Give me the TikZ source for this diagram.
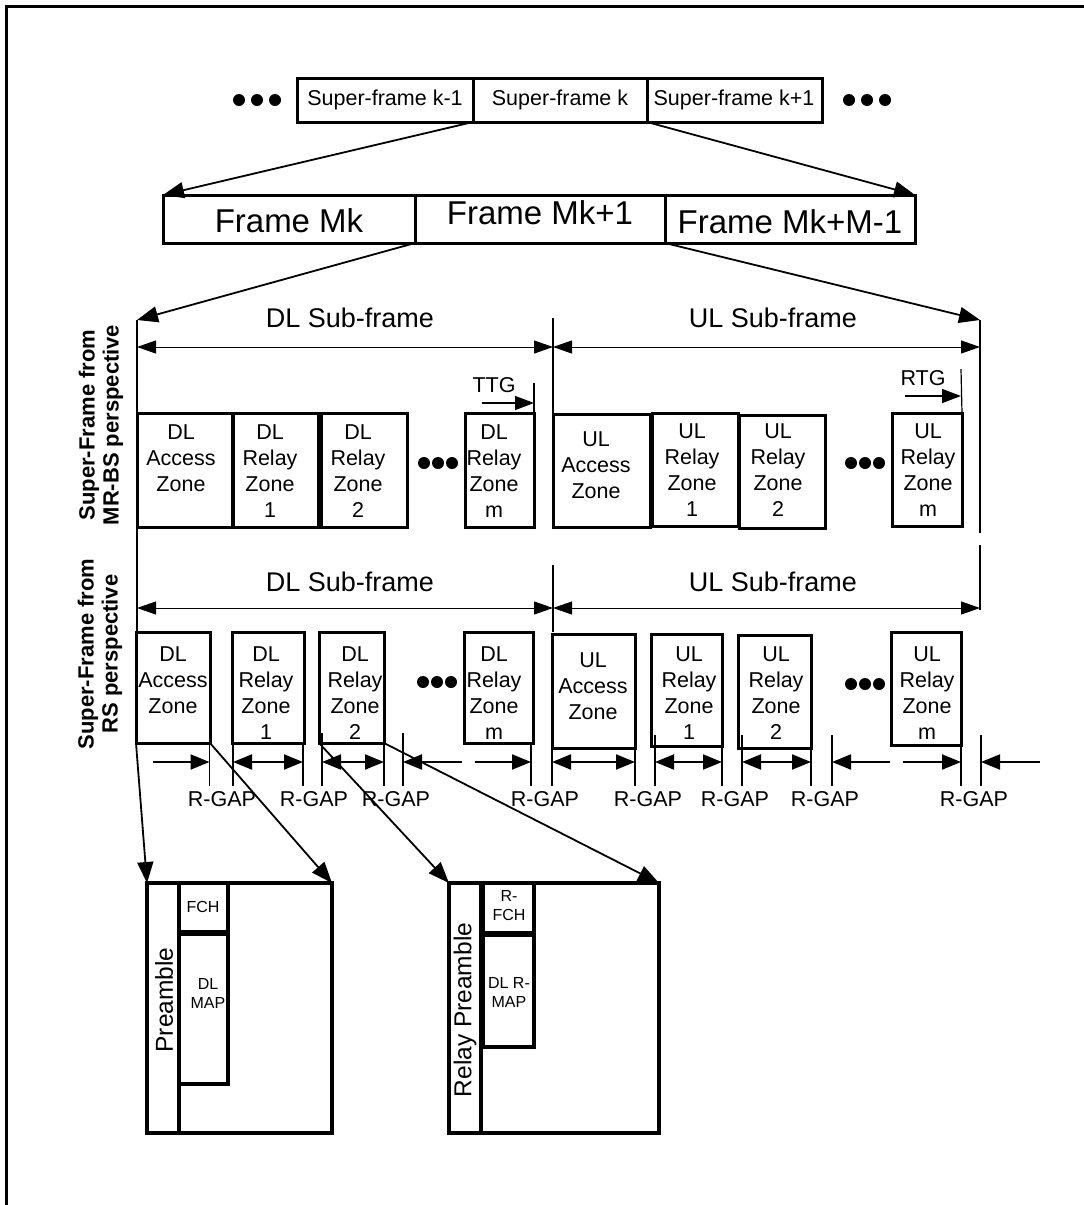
\documentclass[tikz,border=0pt]{standalone}
\usepackage{fontspec}
\setmainfont{Liberation Sans}
\usetikzlibrary{arrows.meta,fit}
\newcommand\fsf{\fontsize{21.5}{26}\selectfont}
\newcommand\ffr{\fontsize{33}{38}\selectfont}
\newcommand\fsub{\fontsize{27}{30}\selectfont}
\newcommand\fzn{\fontsize{21.5}{26}\selectfont}
\newcommand\flab{\fontsize{22}{24}\selectfont\bfseries}
\newcommand\fsm{\fontsize{16}{19}\selectfont}
\newcommand\fpre{\fontsize{24.5}{28}\selectfont}
\begin{document}
\begin{tikzpicture}[x=1pt,y=-1pt,
  every node/.style={inner sep=0pt,outer sep=0pt},
  tbox/.style={draw,line width=3pt,inner sep=0pt,outer sep=0pt},
  bbox/.style={draw,line width=3.5pt,inner sep=0pt,outer sep=0pt},
  thinl/.style={line width=1.2pt},
  arr/.style={line width=1.8pt,-{Triangle[length=21pt,width=16pt]}},
  dimarr/.style={line width=1pt,{Triangle[length=19pt,width=13pt]}-{Triangle[length=19pt,width=13pt]}},
  garr/.style={line width=2pt,arrows={-Triangle[length=19pt,width=15pt]}},
  garrl/.style={line width=2pt,arrows={Triangle[length=19pt,width=15pt]-}},
  garrb/.style={line width=2pt,arrows={Triangle[length=19pt,width=15pt]-Triangle[length=19pt,width=15pt]}},
  ztext/.style={anchor=north,align=center,font=\fzn},
  tick/.style={line width=1.5pt}]
\useasboundingbox (0,0) rectangle (1084,1205);
\draw[line width=3pt] (6,1205) -- (6,6) -- (1084,6);

% ---- super-frames
\node[tbox,fit={(297,78) (473,122)}] (sfa) {};
\node[tbox,fit={(473,78) (647,122)}] (sfk) {};
\node[tbox,fit={(647,78) (822,122)}] (sfb) {};
\node[font=\fsf] (sfat) at (385,100) {Super-frame k-1};
\node[font=\fsf] (sfkt) at (560,100) {Super-frame k};
\node[font=\fsf] (sfbt) at (734,100) {Super-frame k+1};
\foreach \x in {239,257,275,849,867,885} \fill (\x,100) circle (6);

% ---- frames
\node[tbox,fit={(163,195) (415,243)}] (fa) {};
\node[tbox,fit={(415,195) (665,243)}] (fb) {};
\node[tbox,fit={(665,195) (915,243)}] (fc) {};
\node[font=\ffr] (fat) at (289,221) {Frame Mk};
\node[font=\ffr] (fbt) at (540,213) {Frame Mk+1};
\node[font=\ffr] (fct) at (790,222) {Frame Mk+M-1};
\draw[arr] (sfk.south west) -- (fa.north west);
\draw[arr] (sfk.south east) -- (fc.north east);
\coordinate (mrL) at (137,320);
\coordinate (mrR) at (980,320);
\draw[arr] (fb.south west) -- (mrL);
\draw[arr] (fb.south east) -- (mrR);

% ---- MR-BS perspective
\node[font=\flab,rotate=90,align=center] (lab1) at (101,425) {Super-Frame from\\MR-BS perspective};
\coordinate (mrM) at (553,318);
\coordinate (mrLb) at (137,413);
\coordinate (mrMb) at (553,413);
\draw[thinl] (mrL) -- (mrLb);
\draw[thinl] (mrM) -- (mrMb);
\draw[thinl] (mrR) -- (980,533);
\coordinate (dmL) at (137,347);
\coordinate (dmM) at (553,347);
\coordinate (dmR) at (980,347);
\draw[dimarr] (dmL) -- (dmM);
\draw[dimarr] (dmM) -- (dmR);
\node[font=\fsub] (dlsub1) at (350,318) {DL Sub-frame};
\node[font=\fsub] (ulsub1) at (773,318) {UL Sub-frame};

\node[tbox,fit={(137,413) (232,527)}] (dlaM) {};
\node[tbox,fit={(233,413) (318,527)}] (dr1M) {};
\node[tbox,fit={(321,413) (407,527)}] (dr2M) {};
\node[tbox,fit={(465,413) (534,527)}] (drmM) {};
\node[tbox,fit={(553,414) (650,527)}] (ulaM) {};
\node[tbox,fit={(652,413) (738,526)}] (ur1M) {};
\node[tbox,fit={(739,415) (825,528)}] (ur2M) {};
\node[tbox,fit={(892,413) (962,526)}] (urmM) {};
\node[ztext] (t1) at (181,425) {DL\\Access\\Zone};
\node[ztext] (t2) at (270,425) {DL\\Relay\\Zone\\1};
\node[ztext] (t3) at (358,425) {DL\\Relay\\Zone\\2};
\node[ztext] (t4) at (494,425) {DL\\Relay\\Zone\\m};
\node[ztext] (t5) at (596,432) {UL\\Access\\Zone};
\node[ztext] (t6) at (692,424) {UL\\Relay\\Zone\\1};
\node[ztext] (t7) at (778,424) {UL\\Relay\\Zone\\2};
\node[ztext] (t8) at (928,424) {UL\\Relay\\Zone\\m};
\foreach \x in {424,438,452,851,865,879} \fill (\x,463) circle (6);

\coordinate (ttgA) at (482,403);
\coordinate (ttgB) at (534,403);
\draw[line width=1.5pt,-{Triangle[length=19pt,width=14pt]}] (ttgA) -- (ttgB);
\draw[thinl] (534,383) -- (drmM.north east);
\node[font=\fsf] (ttg) at (494,385) {TTG};
\coordinate (rtgA) at (905,396);
\coordinate (rtgB) at (961,396);
\draw[line width=1.5pt,-{Triangle[length=19pt,width=14pt]}] (rtgA) -- (rtgB);
\draw[thinl] (961,369) -- (urmM.north east);
\node[font=\fsf] (rtg) at (923,378) {RTG};

% ---- RS perspective
\node[font=\flab,rotate=90,align=center] (lab2) at (100,654) {Super-Frame from\\RS perspective};
\draw[thinl] (dlaM.south west) -- (137,632);
\draw[thinl] (980,545) -- (980,610);
\draw[thinl] (553,565) -- (553,632);
\coordinate (drL) at (137,608);
\coordinate (drM) at (553,608);
\coordinate (drR) at (980,608);
\draw[dimarr] (drL) -- (drM);
\draw[dimarr] (drM) -- (drR);
\node[font=\fsub] (dlsub2) at (350,582) {DL Sub-frame};
\node[font=\fsub] (ulsub2) at (773,582) {UL Sub-frame};

\node[tbox,fit={(136,632) (210,743)}] (dlaR) {};
\node[tbox,fit={(232,632) (304,743)}] (dr1R) {};
\node[tbox,fit={(319,632) (384,743)}] (dr2R) {};
\node[tbox,fit={(464,632) (533,743)}] (drmR) {};
\node[tbox,fit={(552,634) (635,748)}] (ulaR) {};
\node[tbox,fit={(651,634) (722,746)}] (ur1R) {};
\node[tbox,fit={(738,635) (811,748)}] (ur2R) {};
\node[tbox,fit={(891,632) (961,745)}] (urmR) {};
\node[ztext] (s1) at (173,647) {DL\\Access\\Zone};
\node[ztext] (s2) at (266,647) {DL\\Relay\\Zone\\1};
\node[ztext] (s3) at (355,647) {DL\\Relay\\Zone\\2};
\node[ztext] (s4) at (494,647) {DL\\Relay\\Zone\\m};
\node[ztext] (s5) at (593,653) {UL\\Access\\Zone};
\node[ztext] (s6) at (689,647) {UL\\Relay\\Zone\\1};
\node[ztext] (s7) at (776,647) {UL\\Relay\\Zone\\2};
\node[ztext] (s8) at (927,647) {UL\\Relay\\Zone\\m};
\foreach \x in {423,437,451} \fill (\x,682) circle (6);
\foreach \x in {851,865,879} \fill (\x,684) circle (6);

% ticks
\foreach \x/\t in {209.5/743,233/743,303/743,322/733,384/743,403/733,531/743,552/748,635/748,655/735,722/746,742/735,811/735,832/735,961/745,981/735}
  \draw[tick] (\x,\t) -- (\x,786);
% gap arrows
\draw[garr] (153,762) -- (209.5,762);
\draw[garrb] (233,762) -- (303,762);
\draw[garrb] (322,762) -- (384,762);
\draw[garrl] (403,762) -- (462,762);
\draw[garr] (475,762) -- (531,762);
\draw[garrb] (552,762) -- (635,762);
\draw[garrb] (655,762) -- (722,762);
\draw[garrb] (742,762) -- (811,762);
\draw[garrl] (832,762) -- (890,762);
\draw[garr] (903,762) -- (961,762);
\draw[garrl] (981,762) -- (1040,762);
\foreach \x [count=\i] in {222,314,396,545,648,735,825,974}
  \node[font=\fsf] (rg\i) at (\x,799) {R-GAP};

% ---- bottom detail boxes
\node[bbox,fit={(147,883) (332,1133)}] (bb1) {};
\node[bbox,fit={(147,883) (179,1133)}] (pre1) {};
\node[bbox,fit={(179,883) (228,932)}] (fch) {};
\node[bbox,fit={(179,934) (228,1084)}] (dlmap) {};
\node[font=\fsm] (fcht) at (203,907) {FCH};
\node[font=\fsm,align=center] (dlmapt) at (208,993) {DL\\MAP};
\node[font=\fpre,rotate=90] (pret) at (164,1000) {Preamble};

\node[bbox,fit={(449,883) (659,1133)}] (bb2) {};
\node[bbox,fit={(449,883) (481,1133)}] (pre2) {};
\node[bbox,fit={(483,883) (534,933)}] (rfch) {};
\node[bbox,fit={(483,935) (534,1047)}] (drmap) {};
\node[font=\fsm,align=center] (rfcht) at (509,906) {R-\\FCH};
\node[font=\fsm,align=center] (drmapt) at (509,992) {DL R-\\MAP};
\node[font=\fpre,rotate=90] (pre2t) at (465,1010) {Relay Preamble};

\draw[arr] (dlaR.south west) -- (bb1.north west);
\draw[arr] (dlaR.south east) -- (bb1.north east);
\draw[arr] (dr2R.south west) -- (bb2.north west);
\draw[arr] (dr2R.south east) -- (bb2.north east);
\end{tikzpicture}
\end{document}
